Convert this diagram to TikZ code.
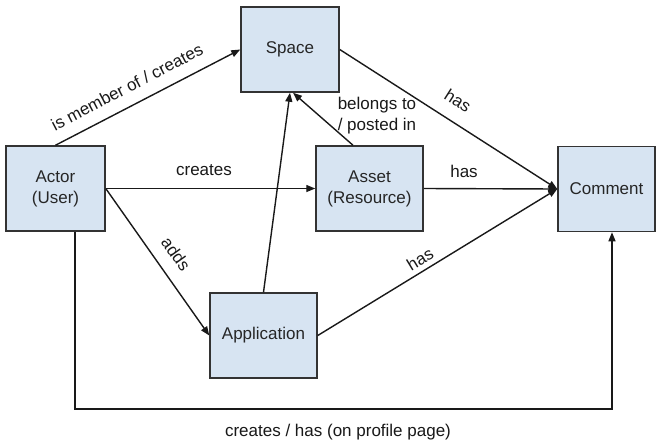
\documentclass[tikz,border=0pt]{standalone}
\usepackage{fontspec}
\setmainfont{Liberation Sans}
\usetikzlibrary{arrows.meta,calc}
\definecolor{boxfill}{HTML}{D7E4F2}
\definecolor{boxline}{HTML}{333333}
\begin{document}
\begin{tikzpicture}[x=1pt,y=-1pt,
  font=\fontsize{17}{21}\selectfont,
  ent/.style={draw=boxline, line width=1.5pt, fill=boxfill, minimum width=#1,
    minimum height=85pt, inner sep=0pt, align=center, text=black!85},
  arr/.style={-{Triangle[length=9pt,width=7pt]}, line width=1.4pt, draw=black!90},
  lbl/.style={inner sep=0pt, align=center, text=black!90}]
\useasboundingbox[fill=white] (0,0) rectangle (657,445);
% entities
\node[ent=98pt]  (space)   at (290,49.5)   {Space};
\node[ent=99pt]  (actor)   at (55.5,188.5) {Actor\\(User)};
\node[ent=107pt] (asset)   at (369.5,188.5){Asset\\(Resource)};
\node[ent=97pt]  (comment) at (606.5,189)  {Comment};
\node[ent=107pt] (app)     at (263.5,335.5){Application};
% connectors
\draw[arr] (actor.north) -- (space.west);
\draw[arr] (actor.east) -- (asset.west);
\draw[arr] (actor.east) -- (app.west);
\draw[arr] (app.north) -- (space.south);
\draw[arr] ([xshift=-16.5pt]asset.north) -- ([xshift=3pt]space.south);
\draw[arr] (space.east) -- (comment.west);
\draw[arr] (asset.east) -- (comment.west);
\draw[arr] (app.east) -- (comment.west);
\coordinate (bl) at (75,409);
\coordinate (br) at (612,409);
\draw[arr] (actor.south -| bl) -- (bl) -- (br) -- (comment.south -| br);
% labels
\node[lbl, rotate=27.5]  (l1) at (127,87)  {is member of / creates};
\node[lbl]               (l2) at (204,170) {creates};
\node[lbl, rotate=-54.5] (l3) at (176,254) {adds};
\node[lbl]               (l4) at (377,116) {belongs to\\/ posted in};
\node[lbl, rotate=-32.4] (l5) at (458,101) {has};
\node[lbl]               (l6) at (464,171) {has};
\node[lbl, rotate=31.2]  (l7) at (420,259) {has};
\node[lbl]               (l8) at (338,432) {creates / has (on profile page)};
\end{tikzpicture}
\end{document}
